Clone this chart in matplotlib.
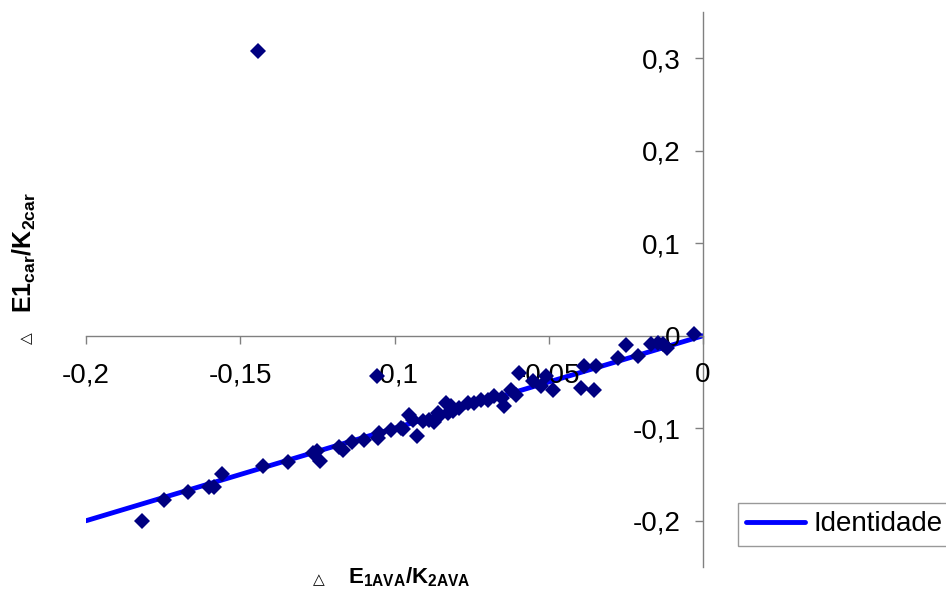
import matplotlib.pyplot as plt
from matplotlib.ticker import FuncFormatter

plt.rcParams['font.family'] = ['Liberation Sans', 'DejaVu Sans']
plt.rcParams['mathtext.fontset'] = 'custom'
plt.rcParams['mathtext.rm'] = 'Liberation Sans'
plt.rcParams['mathtext.bf'] = 'Liberation Sans:bold'

# valores
x_ava = [-0.1443, -0.182, -0.1748, -0.167, -0.160, -0.1584, -0.156, -0.1425,
         -0.1346, -0.1265, -0.1250, -0.124, -0.118, -0.1168, -0.1138, -0.110,
         -0.1057, -0.1055, -0.105, -0.101, -0.098, -0.0973, -0.0952, -0.094,
         -0.0927, -0.0909, -0.0887, -0.0871, -0.0860, -0.0855, -0.0833, -0.0828,
         -0.0817, -0.0811, -0.079, -0.0763, -0.0741, -0.072, -0.0698, -0.0677,
         -0.065, -0.0644, -0.0622, -0.0606, -0.0596, -0.0552, -0.0525, -0.0509,
         -0.0487, -0.0395, -0.0385, -0.0352, -0.0347, -0.0277, -0.025, -0.0212,
         -0.0169, -0.0147, -0.0131, -0.0117, -0.0028]
y_car = [0.308, -0.200, -0.178, -0.169, -0.163, -0.163, -0.150, -0.141,
         -0.137, -0.127, -0.125, -0.135, -0.120, -0.124, -0.1153, -0.113,
         -0.044, -0.1106, -0.105, -0.102, -0.100, -0.101, -0.0854, -0.0908,
         -0.1088, -0.0926, -0.0908, -0.0937, -0.0836, -0.087, -0.0728, -0.0836,
         -0.0764, -0.0818, -0.078, -0.0728, -0.0728, -0.069, -0.069, -0.0656,
         -0.0674, -0.0764, -0.0584, -0.0638, -0.0404, -0.0494, -0.0548, -0.044,
         -0.0584, -0.0566, -0.0332, -0.0584, -0.0332, -0.0241, -0.0097, -0.0223,
         -0.0086, -0.0079, -0.0086, -0.0133, 0.0022]

ident_x = [-0.2, 0.0]
ident_y = [-0.2, 0.0]

x_ticks = [-0.2, -0.15, -0.1, -0.05, 0.0]
y_ticks = [-0.2, -0.1, 0.0, 0.1, 0.2, 0.3]

fig = plt.figure(figsize=(9.46, 5.9), dpi=100)
ax = fig.add_axes([86 / 946, 1 - 567 / 590, 617 / 946, 555 / 590])

ax.plot(ident_x, ident_y, color='#0000ff', lw=3.5, solid_capstyle='round',
        label='Identidade', zorder=2)
ax.plot(x_ava, y_car, ls='none', marker='D', ms=8.5, mew=0, color='#000080',
        zorder=3)

ax.set_xlim(-0.2, 0.0)
ax.set_ylim(-0.25, 0.35)
ax.set_xticks(x_ticks)
ax.set_yticks(y_ticks)


def virgula(v, pos):
    s = f'{v:.2f}'.rstrip('0').rstrip('.')
    if s in ('-0', '0'):
        return '0'
    return s.replace('.', ',')


ax.xaxis.set_major_formatter(FuncFormatter(virgula))
ax.yaxis.set_major_formatter(FuncFormatter(virgula))

for s in ['top', 'right']:
    ax.spines[s].set_visible(False)
ax.spines['left'].set_position(('data', 0))
ax.spines['bottom'].set_position(('data', 0))
for s in ['left', 'bottom']:
    ax.spines[s].set_color('#808080')
    ax.spines[s].set_linewidth(1)
ax.tick_params(axis='both', direction='out', length=6, width=1,
               color='#808080', labelsize=20, labelcolor='black')
ax.tick_params(axis='x', pad=13)
ax.tick_params(axis='y', pad=10)
ax.set_axisbelow(False)
ax.patch.set_visible(False)

# rótulos dos eixos
fig.text(409 / 946, 1 - 577 / 590, r'$\mathbf{E_{1AVA}/K_{2AVA}}$',
         fontsize=16, ha='center', va='center')
fig.text(319 / 946, 1 - 580 / 590, '△', fontsize=11, ha='center', va='center')
fig.text(24 / 946, 1 - 253 / 590, r'$\mathbf{E1_{car}/K_{2car}}$',
         fontsize=18, rotation=90, ha='center', va='center')
fig.text(27 / 946, 1 - 338 / 590, '△', fontsize=11, rotation=90,
         ha='center', va='center')

leg = fig.legend(loc='upper left', bbox_to_anchor=(738 / 946, 1 - 503 / 590),
                 fontsize=20, frameon=True, fancybox=False, handlelength=2.1,
                 handletextpad=0.33, borderpad=0.3, borderaxespad=0)
leg.get_frame().set_edgecolor('#808080')
leg.get_frame().set_linewidth(1)

fig.savefig('out.png', dpi=100)
